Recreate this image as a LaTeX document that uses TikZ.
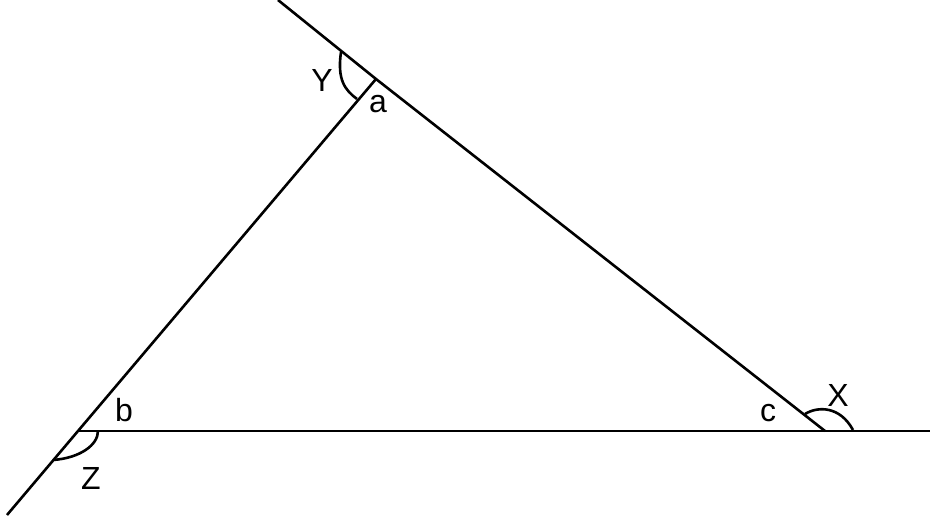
\documentclass[tikz,border=0pt]{standalone}
\usepackage{fontspec}
\setmainfont{Liberation Sans}
\usepackage{tikz}

\begin{document}
\begin{tikzpicture}[x=1pt,y=-1pt,line width=2.6pt,
        lbl/.style={font=\fontsize{32}{38}\selectfont,inner sep=0pt}]
        \useasboundingbox (0,0) rectangle (930,520);

        \coordinate (a) at (376,79);
        \coordinate (b) at (78,431);
        \coordinate (c) at (825,431);
        \coordinate (top) at (278,0);
        \coordinate (low) at (7,515);
        \coordinate (right) at (930,431);

        \draw (top) -- (a) -- (c) ;
        \draw (low) -- (b) -- (a) ;
        \draw (b) -- (c) -- (right) ;

        \draw (341,52) .. controls (337,80) and (345,90) .. (357,99) ;
        \draw (98,431) .. controls (98,445) and (80,458) .. (53,460) ;
        \draw (805,414) .. controls (818,406) and (840,406) .. (853,430) ;

        \node [lbl] (la) at (378,104) {a};
        \node [lbl] (lb) at (124,410) {b};
        \node [lbl] (lc) at (768,413) {c};
        \node [lbl] (lY) at (322,80) {Y};
        \node [lbl] (lX) at (838,395) {X};
        \node [lbl] (lZ) at (91,478) {Z};

    \end{tikzpicture}
\end{document}
